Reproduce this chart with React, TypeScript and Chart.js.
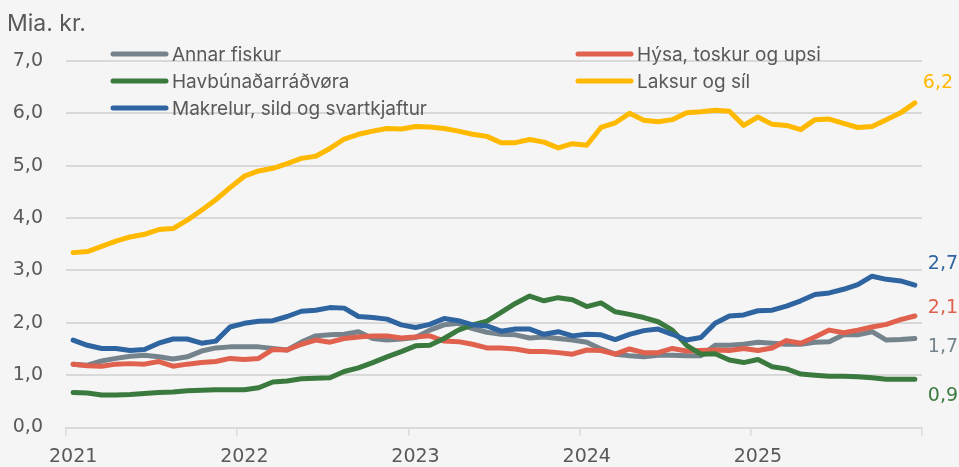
import { useEffect, useRef } from 'react';
import { Chart, registerables } from 'chart.js';

Chart.register(...registerables);

const years = [2021, 2022, 2023, 2024, 2025];
const categories = years.flatMap((y) =>
  Array.from({ length: 12 }, (_, m) => `${y}-${String(m + 1).padStart(2, '0')}`)
);

const seriesNames = [
  'Annar fiskur',
  'Hýsa, toskur og upsi',
  'Havbúnaðarráðvøra',
  'Laksur og síl',
  'Makrelur, sild og svartkjaftur',
];

const annarFiskur = [
  1.21, 1.19, 1.27, 1.32, 1.36, 1.38, 1.35, 1.31, 1.35, 1.46, 1.52, 1.54,
  1.54, 1.54, 1.51, 1.48, 1.63, 1.75, 1.77, 1.78, 1.83, 1.7, 1.67, 1.69,
  1.72, 1.86, 1.96, 1.99, 1.89, 1.82, 1.78, 1.77, 1.71, 1.73, 1.7, 1.67,
  1.63, 1.5, 1.4, 1.37, 1.35, 1.38, 1.38, 1.37, 1.37, 1.57, 1.57, 1.59,
  1.63, 1.61, 1.59, 1.59, 1.63, 1.64, 1.77, 1.77, 1.83, 1.67, 1.68, 1.7,
];

const hysaToskurUpsi = [
  1.21, 1.18, 1.17, 1.21, 1.22, 1.21, 1.26, 1.17, 1.21, 1.24, 1.26, 1.32,
  1.3, 1.32, 1.49, 1.48, 1.59, 1.67, 1.63, 1.7, 1.73, 1.75, 1.75, 1.71,
  1.73, 1.75, 1.65, 1.64, 1.59, 1.52, 1.52, 1.5, 1.45, 1.45, 1.43, 1.4,
  1.48, 1.47, 1.4, 1.5, 1.43, 1.43, 1.51, 1.46, 1.47, 1.48, 1.47, 1.51,
  1.47, 1.52, 1.66, 1.61, 1.73, 1.86, 1.81, 1.86, 1.92, 1.97, 2.06, 2.13,
];

const havbunadur = [
  0.67, 0.66, 0.62, 0.62, 0.63, 0.65, 0.67, 0.68, 0.7, 0.71, 0.72, 0.72,
  0.72, 0.76, 0.87, 0.89, 0.93, 0.94, 0.95, 1.07, 1.14, 1.24, 1.35, 1.45,
  1.56, 1.57, 1.7, 1.86, 1.96, 2.03, 2.2, 2.37, 2.51, 2.42, 2.48, 2.44,
  2.31, 2.38, 2.21, 2.16, 2.1, 2.02, 1.86, 1.57, 1.4, 1.41, 1.29, 1.24,
  1.3, 1.16, 1.12, 1.02, 1.0, 0.98, 0.98, 0.97, 0.95, 0.92, 0.92, 0.92,
];

const laksurOgSil = [
  3.34, 3.36, 3.46, 3.56, 3.64, 3.69, 3.78, 3.8, 3.96, 4.15, 4.35, 4.58,
  4.8, 4.9, 4.95, 5.04, 5.14, 5.18, 5.33, 5.51, 5.6, 5.66, 5.71, 5.7,
  5.75, 5.74, 5.71, 5.66, 5.6, 5.56, 5.44, 5.44, 5.5, 5.45, 5.34, 5.42,
  5.39, 5.73, 5.82, 6.0, 5.87, 5.84, 5.88, 6.01, 6.03, 6.06, 6.04, 5.77,
  5.93, 5.79, 5.77, 5.69, 5.88, 5.89, 5.81, 5.73, 5.75, 5.88, 6.01, 6.2,
];

const makrelurSild = [
  1.67, 1.57, 1.51, 1.51, 1.47, 1.49, 1.61, 1.69, 1.69, 1.61, 1.65, 1.92,
  1.99, 2.03, 2.04, 2.12, 2.22, 2.24, 2.29, 2.28, 2.12, 2.1, 2.07, 1.96,
  1.91, 1.97, 2.08, 2.04, 1.96, 1.94, 1.84, 1.88, 1.88, 1.78, 1.83, 1.75,
  1.78, 1.77, 1.68, 1.78, 1.85, 1.88, 1.78, 1.67, 1.72, 1.99, 2.13, 2.15,
  2.23, 2.24, 2.32, 2.42, 2.54, 2.57, 2.64, 2.73, 2.89, 2.83, 2.8, 2.72,
];

const seriesValues = [annarFiskur, hysaToskurUpsi, havbunadur, laksurOgSil, makrelurSild];
const seriesColors = ['#75838D', '#E0614D', '#3B7A3F', '#FFB900', '#2E64A0'];
// end-label offsets relative to the last point (dx, dy)
const endLabelOffsets = [
  [13, 9],
  [13, -8],
  [13, 17],
  [8, -20],
  [13, -21],
];

const FONT = 'Inter, "Noto Sans", sans-serif';
const NUM_FONT = '"DejaVu Sans", Inter, sans-serif';
const TEXT = '#595959';
const GRID = '#D9D9D9';

const fmt = (v: number) => v.toFixed(1).replace('.', ',');

const decorPlugin = {
  id: 'decor',
  beforeDraw(chart: any) {
    const { ctx, width, height } = chart;
    ctx.save();
    ctx.fillStyle = '#F5F5F5';
    ctx.fillRect(0, 0, width, height);
    ctx.restore();
  },
  afterDraw(chart: any) {
    const { ctx } = chart;
    ctx.save();
    // axis title
    ctx.fillStyle = TEXT;
    ctx.font = `23px ${FONT}`;
    ctx.textBaseline = 'middle';
    ctx.textAlign = 'left';
    ctx.fillText('Mia. kr.', 7, 24);

    // legend (two columns)
    const colLine = [113, 578];
    const lineLen = 53;
    const rowY = [54, 81, 108];
    ctx.font = `19px ${FONT}`;
    chart.data.datasets.forEach((ds: any, k: number) => {
      const col = k % 2;
      const row = Math.floor(k / 2);
      const x0 = colLine[col];
      const y = rowY[row];
      ctx.strokeStyle = ds.borderColor;
      ctx.lineWidth = 5;
      ctx.lineCap = 'round';
      ctx.beginPath();
      ctx.moveTo(x0, y);
      ctx.lineTo(x0 + lineLen, y);
      ctx.stroke();
      ctx.fillStyle = TEXT;
      ctx.fillText(ds.label, x0 + lineLen + 6, y + 1);
    });

    // end labels
    ctx.font = `19px ${NUM_FONT}`;
    chart.data.datasets.forEach((ds: any, k: number) => {
      const meta = chart.getDatasetMeta(k);
      const pt = meta.data[meta.data.length - 1];
      if (!pt) return;
      const [dx, dy] = endLabelOffsets[k];
      ctx.fillStyle = ds.borderColor;
      ctx.fillText(fmt(ds.data[ds.data.length - 1]), pt.x + dx, pt.y + dy);
    });
    ctx.restore();
  },
};

export default function App() {
  const ref = useRef<HTMLCanvasElement | null>(null);
  useEffect(() => {
    if (!ref.current) return;
    const chart = new Chart(ref.current, {
      type: 'line',
      data: {
        labels: categories,
        datasets: seriesValues.map((vals, i) => ({
          label: seriesNames[i],
          data: vals,
          borderColor: seriesColors[i],
          backgroundColor: seriesColors[i],
          borderWidth: 5,
          pointRadius: 0,
          tension: 0,
          borderCapStyle: 'round',
          borderJoinStyle: 'round',
          order: 10 - i,
        })),
      },
      options: {
        animation: false,
        responsive: false,
        devicePixelRatio: 1,
        layout: { padding: { top: 61, right: 37, left: 0, bottom: 0 } },
        plugins: { legend: { display: false }, tooltip: { enabled: false } },
        scales: {
          x: {
            type: 'category',
            offset: true,
            grid: {
              offset: true,
              drawOnChartArea: false,
              drawTicks: true,
              tickLength: 8,
              lineWidth: 1.5,
              color: (c: any) =>
                c.index === undefined || c.index % 12 === 0 ? GRID : 'rgba(0,0,0,0)',
            },
            border: { display: true, color: GRID, width: 2 },
            ticks: {
              autoSkip: false,
              maxRotation: 0,
              minRotation: 0,
              padding: 10,
              color: TEXT,
              font: { family: NUM_FONT, size: 19 },
              callback: (_v: any, i: number) =>
                i % 12 === 0 ? String(years[i / 12]) : '',
            },
            afterFit: (s: any) => {
              s.height = 39.5;
            },
          },
          y: {
            min: 0,
            max: 7,
            ticks: {
              stepSize: 1,
              color: TEXT,
              padding: 23,
              font: { family: NUM_FONT, size: 19 },
              callback: (v: any) => fmt(Number(v)),
            },
            grid: { color: GRID, lineWidth: 2, drawTicks: false },
            border: { display: false },
            afterFit: (s: any) => {
              s.width = 66;
            },
          },
        },
      },
      plugins: [decorPlugin],
    });
    return () => chart.destroy();
  }, []);
  return (
    <div
      style={{
        position: 'fixed',
        left: 0,
        top: 0,
        width: 959,
        height: 467,
        background: '#F5F5F5',
      }}
    >
      <canvas ref={ref} width={959} height={467} style={{ width: 959, height: 467 }} />
    </div>
  );
}
